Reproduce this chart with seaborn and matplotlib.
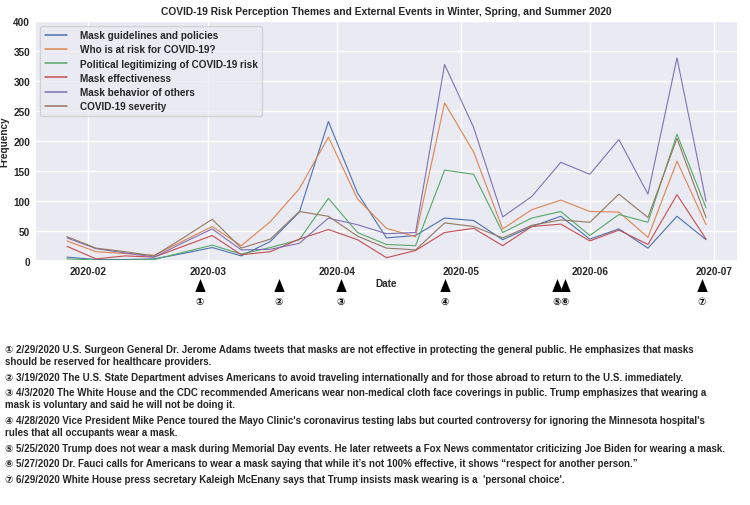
import pandas as pd
import matplotlib.pyplot as plt
import matplotlib.dates as mdates
import seaborn as sns

# --- data (weekly counts) ---
weeks = pd.date_range('2020-01-27', '2020-06-29', freq='7D')

themes = ['Mask guidelines and policies', 'Who is at risk for COVID-19?',
          'Political legitimizing of COVID-19 risk', 'Mask effectiveness',
          'Mask behavior of others', 'COVID-19 severity']

mask_guidelines = [6, 2, 2, 3, 12, 22, 8, 32, 81, 232, 113, 38, 42, 71, 67, 35, 57, 74, 36, 53, 21, 74, 35]
who_at_risk = [33, 15, 12, 9, 33, 57, 25, 65, 120, 206, 103, 54, 40, 263, 181, 53, 85, 101, 82, 81, 39, 166, 60]
political = [3, 1, 1, 2, 14, 26, 11, 22, 35, 104, 47, 27, 25, 151, 144, 47, 71, 82, 42, 77, 64, 211, 88]
mask_effect = [24, 3, 8, 6, 24, 42, 10, 15, 36, 52, 35, 5, 17, 47, 54, 25, 57, 61, 33, 51, 27, 110, 36]
mask_behavior = [38, 20, 13, 6, 30, 53, 18, 19, 29, 71, 60, 45, 47, 327, 222, 73, 107, 164, 144, 202, 111, 338, 99]
severity = [40, 21, 15, 8, 38, 69, 21, 36, 82, 74, 41, 21, 18, 63, 57, 38, 59, 68, 64, 111, 72, 204, 72]

event_dates = pd.to_datetime(['2020-02-29', '2020-03-19', '2020-04-03', '2020-04-28',
                              '2020-05-25', '2020-05-27', '2020-06-29'])
event_marks = ['①', '②', '③', '④', '⑤', '⑥', '⑦']
event_lines = [
    ['① 2/29/2020 U.S. Surgeon General Dr. Jerome Adams tweets that masks are not effective in protecting the general public. He emphasizes that masks',
     'should be reserved for healthcare providers.'],
    ['② 3/19/2020 The U.S. State Department advises Americans to avoid traveling internationally and for those abroad to return to the U.S. immediately.'],
    ['③ 4/3/2020 The White House and the CDC recommended Americans wear non-medical cloth face coverings in public. Trump emphasizes that wearing a',
     'mask is voluntary and said he will not be doing it.'],
    ['④ 4/28/2020 Vice President Mike Pence toured the Mayo Clinic\'s coronavirus testing labs but courted controversy for ignoring the Minnesota hospital\'s',
     'rules that all occupants wear a mask.'],
    ['⑤ 5/25/2020 Trump does not wear a mask during Memorial Day events. He later retweets a Fox News commentator criticizing Joe Biden for wearing a mask.'],
    ['⑥ 5/27/2020 Dr. Fauci calls for Americans to wear a mask saying that while it\u2019s not 100% effective, it shows \u201crespect for another person.\u201d'],
    ['⑦ 6/29/2020 White House press secretary Kaleigh McEnany says that Trump insists mask wearing is a  \'personal choice\'.'],
]

series = [mask_guidelines, who_at_risk, political, mask_effect, mask_behavior, severity]
df = pd.concat([pd.DataFrame({'Date': weeks, 'Frequency': vals, 'Theme': name})
                for name, vals in zip(themes, series)], ignore_index=True)

# --- plot ---
sns.set_theme(style='darkgrid')
plt.rcParams['font.family'] = ['Liberation Sans', 'DejaVu Sans']
plt.rcParams['font.weight'] = 'bold'

fig = plt.figure(figsize=(7.5, 5.06), dpi=100)
ax = fig.add_axes([35 / 750, 1 - 261.7 / 506, 703 / 750, 240 / 506])

sns.lineplot(data=df, x='Date', y='Frequency', hue='Theme', hue_order=themes,
             palette='deep', linewidth=0.8, ax=ax)

ax.set_ylim(0, 400)
ax.set_yticks(range(0, 401, 50))
ax.xaxis.set_major_locator(mdates.MonthLocator())
ax.xaxis.set_major_formatter(mdates.DateFormatter('%Y-%m'))
ax.tick_params(labelsize=7.2, pad=3.5, length=0)
for lab in ax.get_xticklabels() + ax.get_yticklabels():
    lab.set_fontweight('bold')
ax.set_xlabel('Date', fontsize=7.2, fontweight='bold', labelpad=1.5)
ax.set_ylabel('Frequency', fontsize=7.2, fontweight='bold', labelpad=3)
ax.set_title('COVID-19 Risk Perception Themes and External Events in Winter, Spring, and Summer 2020',
             fontsize=7.4, fontweight='bold', pad=5)

leg = ax.legend(loc='upper left', fontsize=7.2, frameon=True, borderpad=0.45,
                labelspacing=0.42, handlelength=2.2, handletextpad=1.3)
for t in leg.get_texts():
    t.set_fontweight('bold')
for h in leg.get_lines():
    h.set_linewidth(1.1)

# event markers below the axis
trans = ax.get_xaxis_transform()
mark_x = event_dates - pd.Timedelta(days=1)
ax.scatter(mark_x, [-0.103] * len(mark_x), marker=[(-0.4, -0.5), (0.4, -0.5), (0, 0.5)],
           s=88, color='black', linewidths=0, transform=trans, clip_on=False, zorder=5)
for x, m in zip(mark_x, event_marks):
    ax.text(x, -0.168, m, transform=trans, ha='center', va='center', fontsize=7,
            family=['DejaVu Sans'], color='black')

# event descriptions
y = 350
for para in event_lines:
    for i, line in enumerate(para):
        fig.text(5 / 750, 1 - y / 506, line, ha='left', va='center', fontsize=7,
                 fontweight='bold', family=['Liberation Sans', 'DejaVu Sans'])
        y += 12
    y += 3.7

fig.savefig('out.png', dpi=100)
